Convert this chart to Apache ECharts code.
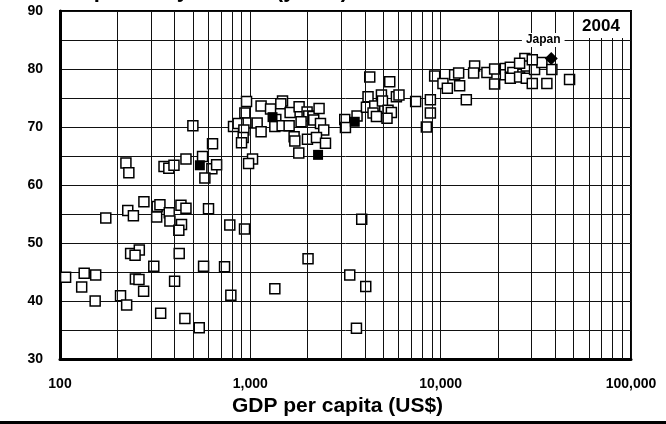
<!DOCTYPE html>
<html>
<head>
    <meta charset="utf-8" />
    <script src="https://cdn.jsdelivr.net/npm/echarts@6/dist/echarts.min.js"></script>
    <style>html, body { margin: 0; padding: 0; background: #fff; }</style>
</head>
<body>
    <div id="main" style="width:666px;height:424px;"></div>

    <script type="text/javascript">

        // GDP per capita (US$) and life expectancy (years), 2004
        var otherGdp = [
            222, 230, 352, 373, 397, 459, 561, 628, 665, 577, 1027, 979, 276, 227, 243, 174, 324, 335, 322, 375,
            378, 432, 459, 435, 421, 603, 780, 932, 235, 261, 248, 311, 423, 568, 732, 107, 134, 154, 130, 249,
            260, 400, 153, 208, 224, 275, 338, 453, 539, 790, 499, 633,
            955, 936, 947, 816, 863, 925, 917, 899, 1139, 1277, 1361, 1345, 1086, 1139, 1476, 1446, 1618, 1469, 1599, 1804,
            1987, 2028, 1848, 1698, 1713, 1797, 1996, 2136, 2154, 2297, 2336, 2431, 2226, 2482, 3134, 3160, 3636, 4153, 4074, 4504,
            4884, 4943, 4412, 4597, 5290, 5510, 5400, 4240,
            5225, 5854, 6040, 7390, 8830, 8830, 8410, 9300, 10280, 10840, 11840, 12430, 12580, 13640, 15080, 14900, 17500, 19210, 19210, 21860,
            21860, 23220, 23960, 23220, 25980, 27700, 28180, 28180, 30290, 31140, 34020, 38400, 36140, 47550, 30290, 25980,
            2010, 1345, 3329, 4040, 3610, 3848
        ];
        var otherLife = [
            63.8, 62.1, 63.2, 62.9, 63.4, 64.5, 64.9, 62.8, 63.5, 61.2, 64.5, 63.7, 57.1, 55.6, 54.7, 54.3, 56.3, 56.6, 54.5, 55.2,
            53.8, 56.5, 56.0, 53.2, 52.2, 55.9, 53.1, 52.4, 48.2, 48.8, 47.9, 46.0, 48.2, 46.0, 45.9, 44.1, 44.8, 44.5, 42.4, 43.8,
            43.7, 43.4, 40.0, 40.9, 39.3, 41.7, 37.9, 37.0, 35.4, 41.0, 70.2, 67.1,
            74.4, 72.4, 70.7, 70.1, 70.6, 69.5, 68.2, 67.3, 73.6, 73.1, 71.3, 70.1, 70.7, 69.2, 74.5, 74.0, 72.5, 70.2, 70.2, 73.5,
            72.6, 71.9, 70.9, 68.3, 67.6, 65.5, 67.9, 71.8, 71.2, 73.2, 70.6, 69.5, 68.2, 67.2, 71.3, 69.9, 71.9, 75.2, 73.4, 73.6,
            75.5, 74.5, 72.4, 71.8, 72.9, 72.5, 77.8, 78.6,
            71.5, 75.2, 75.5, 74.4, 74.7, 72.4, 70.0, 78.8, 77.5, 76.7, 79.0, 79.3, 77.1, 74.7, 80.5, 79.3, 79.4, 80.0, 77.4, 80.1,
            79.0, 80.3, 79.4, 78.4, 78.6, 81.8, 80.5, 78.4, 77.5, 79.9, 81.1, 79.9, 77.5, 78.2, 81.6, 81.0,
            47.3, 42.1, 44.5, 42.5, 35.3, 54.1
        ];

        // filled squares
        var markedGdp = [543, 1308, 2269, 3537];
        var markedLife = [63.4, 71.7, 65.2, 70.9];

        var japanGdp = [38100];
        var japanLife = [81.8];

        var minorGridX = [200, 300, 400, 500, 600, 700, 800, 900,
            2000, 3000, 4000, 5000, 6000, 7000, 8000, 9000,
            20000, 30000, 40000, 50000, 60000, 70000, 80000, 90000];

        var FONT = 'Liberation Sans, Arial, sans-serif';

        function pairs(xs, ys) {
            return xs.map(function (x, i) { return [x, ys[i]]; });
        }

        var myChart = echarts.init(document.getElementById('main'));

        myChart.setOption({
            animation: false,
            textStyle: { fontFamily: FONT },
            title: {
                text: 'Life expectancy at birth (years)',
                left: 24,
                top: -20,
                padding: 0,
                textStyle: { fontSize: 22, fontWeight: 'bold', color: '#000', fontFamily: FONT }
            },
            grid: {
                left: 60, right: 35, top: 11, bottom: 65,
                show: true, borderColor: '#000', borderWidth: 2
            },
            xAxis: {
                type: 'log',
                logBase: 10,
                min: 100,
                max: 100000,
                axisLine: { lineStyle: { color: '#000', width: 3 } },
                axisTick: { show: false },
                axisLabel: {
                    color: '#000', fontSize: 14, fontWeight: 'bold', margin: 18,
                    formatter: function (v) { return Math.round(v).toLocaleString('en-US'); }
                },
                splitLine: { show: true, lineStyle: { color: '#111', width: 1 } },
                name: 'GDP per capita (US$)',
                nameLocation: 'middle',
                nameGap: 36,
                nameTextStyle: { fontSize: 21, fontWeight: 'bold', color: '#000', padding: [0, 16, 0, 0] }
            },
            yAxis: {
                type: 'value',
                min: 30,
                max: 90,
                interval: 5,
                axisLine: { show: true, lineStyle: { color: '#000', width: 3 } },
                axisTick: { show: false },
                axisLabel: {
                    color: '#000', fontSize: 14, fontWeight: 'bold', margin: 17,
                    formatter: function (v) { return v % 10 === 0 ? v : ''; }
                },
                splitLine: { show: true, lineStyle: { color: '#111', width: 1 } }
            },
            series: [
                {
                    // minor log gridlines
                    type: 'scatter',
                    data: [],
                    silent: true,
                    z: 1,
                    markLine: {
                        silent: true,
                        symbol: ['none', 'none'],
                        label: { show: false },
                        lineStyle: { color: '#111', width: 1, type: 'solid', opacity: 1 },
                        data: minorGridX.map(function (v) { return { xAxis: v }; })
                    }
                },
                {
                    type: 'scatter',
                    z: 3,
                    symbol: 'rect',
                    symbolSize: 10,
                    itemStyle: { color: '#fff', borderColor: '#000', borderWidth: 1.5, opacity: 1 },
                    data: pairs(otherGdp, otherLife)
                },
                {
                    type: 'scatter',
                    z: 4,
                    symbol: 'rect',
                    symbolSize: 10,
                    itemStyle: { color: '#000', opacity: 1 },
                    data: pairs(markedGdp, markedLife)
                },
                {
                    type: 'scatter',
                    z: 5,
                    symbol: 'diamond',
                    symbolSize: 13,
                    itemStyle: { color: '#000', opacity: 1 },
                    label: {
                        show: true,
                        position: 'top',
                        distance: 5,
                        offset: [-8, 0],
                        formatter: 'Japan',
                        color: '#000',
                        fontSize: 12,
                        fontWeight: 'bold',
                        backgroundColor: '#fff',
                        padding: [1, 4]
                    },
                    data: pairs(japanGdp, japanLife)
                }
            ],
            graphic: [
                {
                    type: 'rect', z: 100,
                    shape: { x: 575, y: 12, width: 55, height: 26 },
                    style: { fill: '#fff' }
                },
                {
                    type: 'text', z: 101,
                    x: 601, y: 26,
                    style: { text: '2004', fill: '#000', font: 'bold 17px ' + FONT, align: 'center', verticalAlign: 'middle' }
                },
                {
                    type: 'rect', z: 100,
                    shape: { x: 0, y: 421, width: 666, height: 3 },
                    style: { fill: '#000' }
                }
            ]
        });

    </script>
</body>
</html>
